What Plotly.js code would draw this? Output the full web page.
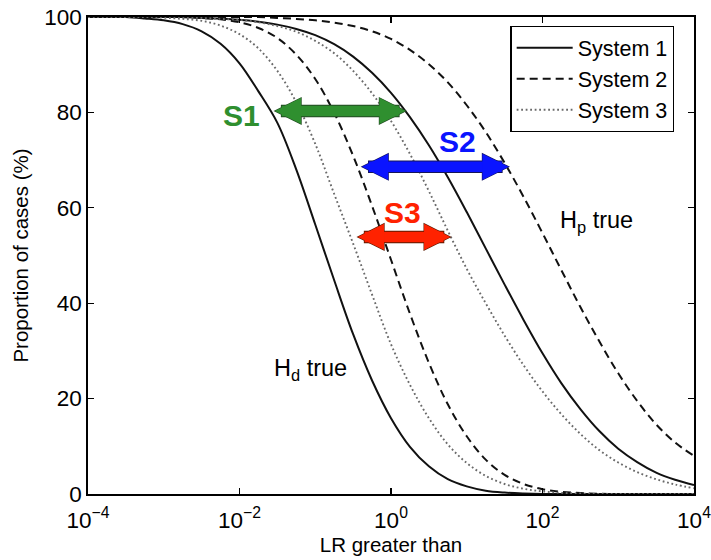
<!DOCTYPE html>
<html>
<head>
<meta charset="utf-8">
<script src="https://cdn.plot.ly/plotly-3.0.1.min.js"></script>
<style>html,body{margin:0;padding:0;background:#fff;}#chart{width:711px;height:560px;}</style>
</head>
<body>
<div id="chart"></div>
<script>
// ---- data: x grid is log10(LR), y values are proportion of cases (%) ----
const logLRGrid = [-4, -3.75, -3.5, -3.25, -3, -2.75, -2.5, -2.25, -2, -1.75, -1.5, -1.25, -1, -0.75, -0.5, -0.25,
                   0, 0.25, 0.5, 0.75, 1, 1.25, 1.5, 1.75, 2, 2.25, 2.5, 2.75, 3, 3.25, 3.5, 3.75, 4];

// Hd true curves (left group)
const hdSystem1 = [100, 100, 100, 99.7, 99.3, 98.5, 97.0, 94.4, 90.3, 84.4, 77.8, 68.0, 56.5, 44.8, 33.5, 23.8,
                   15.9, 9.9, 5.8, 3.1, 1.6, 0.7, 0.3, 0.1, 0, 0, 0, 0, 0, 0, 0, 0, 0];
const hdSystem2 = [100, 100, 100, 100, 100, 100, 99.8, 99.5, 98.9, 97.7, 95.6, 92.1, 87.0, 79.9, 70.9, 60.4,
                   49.1, 37.8, 27.5, 18.8, 12.1, 7.2, 4.0, 2.1, 1.0, 0.45, 0.2, 0.05, 0, 0, 0, 0, 0];
const hdSystem3 = [100, 100, 100, 100, 99.85, 99.6, 99.2, 98.2, 96.4, 93.4, 88.7, 82.1, 73.4, 62.9, 52.5, 41.8,
                   31.4, 22.9, 15.9, 10.4, 6.5, 3.8, 2.1, 1.1, 0.55, 0.25, 0.1, 0, 0, 0, 0, 0, 0];

// Hp true curves (right group)
const hpSystem1 = [100, 100, 100, 100, 100, 100, 99.8, 99.7, 99.4, 99.0, 98.4, 97.5, 96.2, 94.3, 91.7, 88.3,
                   84.1, 79.0, 73.1, 66.4, 59.1, 51.5, 43.9, 36.5, 29.5, 23.2, 17.8, 13.2, 9.5, 6.7, 4.5, 3.0, 1.9];
const hpSystem2 = [100, 100, 100, 100, 100, 100, 100, 100, 100, 100, 99.8, 99.6, 99.3, 98.8, 98.1, 97.0,
                   95.4, 93.1, 90.1, 86.3, 81.5, 75.9, 69.4, 62.3, 54.7, 46.9, 39.2, 32.0, 25.3, 19.5, 14.6, 10.8, 8.0];
const hpSystem3 = [100, 100, 100, 100, 100, 99.9, 99.8, 99.6, 99.4, 98.9, 98.1, 96.9, 95.0, 92.4, 88.7, 84.0,
                   78.2, 71.3, 63.5, 55.2, 47.2, 40.0, 33.2, 27.0, 21.5, 16.7, 12.6, 9.2, 6.6, 4.6, 3.1, 2.0, 1.2];

const systemNames = ['System 1', 'System 2', 'System 3'];

const xTickVals = [1e-4, 1e-2, 1, 1e2, 1e4];
const xTickText = ['10<sup>−4</sup>', '10<sup>−2</sup>', '10<sup>0</sup>', '10<sup>2</sup>', '10<sup>4</sup>'];
const yTickVals = [0, 20, 40, 60, 80, 100];

// S-arrows: level (%), left and right end (log10 LR); labels
const arrowLabels = ['S1', 'S2', 'S3'];
const arrowLevel  = [80.3, 68.6, 53.9];
const arrowFrom   = [-1.57, -0.42, -0.475];
const arrowTo     = [0.21, 1.57, 0.8];
const labelLogLR  = [-1.98, 0.884, 0.158];
const labelPct    = [79.35, 73.9, 59.0];

// ---- styles ----
const FONT = 'Liberation Sans, Arial, Helvetica, sans-serif';
const lineStyles = [
  {color: '#111', width: 2, dash: 'solid'},
  {color: '#111', width: 2, dash: '8px,5px'},
  {color: '#6a6a6a', width: 1.9, dash: '1.8px,2.7px'}
];
const arrowColors = ['#2f8f2f', '#0a14ff', '#ff2200'];
const arrowEdge   = ['#234a23', '#15155a', '#5a1a00'];

const lr = logLRGrid.map(v => Math.pow(10, v));

const traces = [];
[hdSystem1, hdSystem2, hdSystem3].forEach((ys, i) => {
  traces.push({
    x: lr, y: ys, type: 'scatter', mode: 'lines',
    name: systemNames[i], legendgroup: systemNames[i], showlegend: true,
    line: Object.assign({shape: 'spline', smoothing: 1}, lineStyles[i]),
    hoverinfo: 'skip'
  });
});
[hpSystem1, hpSystem2, hpSystem3].forEach((ys, i) => {
  traces.push({
    x: lr, y: ys, type: 'scatter', mode: 'lines',
    name: systemNames[i], legendgroup: systemNames[i], showlegend: false,
    line: Object.assign({shape: 'spline', smoothing: 1}, lineStyles[i]),
    hoverinfo: 'skip'
  });
});

const annotations = [];
arrowLabels.forEach((lab, i) => {
  annotations.push({
    x: arrowTo[i], y: arrowLevel[i], ax: arrowFrom[i], ay: arrowLevel[i],
    xref: 'x', yref: 'y', axref: 'x', ayref: 'y', text: '',
    showarrow: true, arrowside: 'end+start',
    arrowhead: 2, startarrowhead: 2, arrowwidth: 12.5, arrowsize: 0.45, startarrowsize: 0.45,
    arrowcolor: arrowEdge[i], standoff: 0, startstandoff: 0
  });
  annotations.push({
    x: arrowTo[i], y: arrowLevel[i], ax: arrowFrom[i], ay: arrowLevel[i],
    xref: 'x', yref: 'y', axref: 'x', ayref: 'y', text: '',
    showarrow: true, arrowside: 'end+start',
    arrowhead: 2, startarrowhead: 2, arrowwidth: 10.5, arrowsize: 0.5, startarrowsize: 0.5,
    arrowcolor: arrowColors[i], standoff: 1.3, startstandoff: 1.3
  });
  annotations.push({
    x: labelLogLR[i], y: labelPct[i], xref: 'x', yref: 'y', text: '<b>' + lab + '</b>',
    showarrow: false, font: {family: FONT, size: 30, color: arrowColors[i]}
  });
});
annotations.push({x: -1.063, y: 26.0, xref: 'x', yref: 'y', text: 'H<sub>d</sub> true', showarrow: false,
  font: {family: FONT, size: 23.5, color: '#000'}});
annotations.push({x: 2.713, y: 57.2, xref: 'x', yref: 'y', text: 'H<sub>p</sub> true', showarrow: false,
  font: {family: FONT, size: 23.5, color: '#000'}});

const layout = {
  width: 711, height: 560,
  margin: {l: 88, r: 17, t: 17, b: 66},
  paper_bgcolor: '#fff', plot_bgcolor: '#fff',
  font: {family: FONT, size: 22, color: '#000'},
  showlegend: true,
  legend: {
    x: 0.697, y: 0.981, xanchor: 'left', yanchor: 'top',
    bgcolor: '#fff', bordercolor: '#000', borderwidth: 1.3,
    font: {family: FONT, size: 21.5, color: '#000'},
    itemwidth: 56, tracegroupgap: 0
  },
  xaxis: {
    type: 'log', range: [-4, 4],
    tickmode: 'array', tickvals: xTickVals, ticktext: xTickText,
    ticks: 'inside', ticklen: 6, tickwidth: 1.2, tickcolor: '#000',
    showline: true, linecolor: '#000', linewidth: 1.8, mirror: 'ticks',
    showgrid: false, zeroline: false,
    ticklabelstandoff: 5, ticklabeloverflow: 'allow',
    tickfont: {family: FONT, size: 22.5, color: '#000'},
    title: {text: 'LR greater than', font: {family: FONT, size: 20.5, color: '#000'}, standoff: 6}
  },
  yaxis: {
    range: [0, 100],
    tickmode: 'array', tickvals: yTickVals,
    ticks: 'inside', ticklen: 6, tickwidth: 1.2, tickcolor: '#000',
    showline: true, linecolor: '#000', linewidth: 1.8, mirror: 'ticks',
    showgrid: false, zeroline: false,
    tickfont: {family: FONT, size: 22.5, color: '#000'},
    title: {text: 'Proportion of cases (%)', font: {family: FONT, size: 20.5, color: '#000'}, standoff: 10}
  },
  annotations: annotations
};

Plotly.newPlot('chart', traces, layout, {staticPlot: true, displayModeBar: false});
</script>
</body>
</html>
